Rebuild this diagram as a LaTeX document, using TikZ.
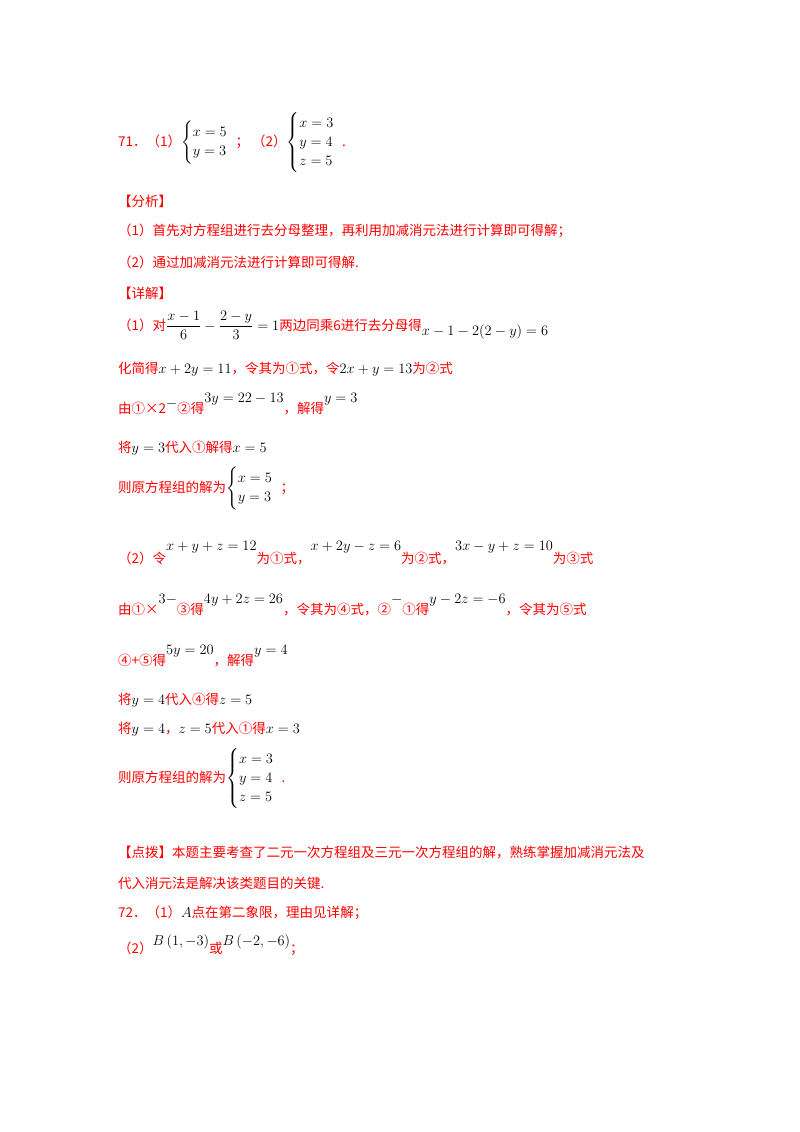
\documentclass[tikz,border=0pt]{standalone}
\usepackage{fontspec}
\usepackage{amsmath}
\newfontfamily\cjk{Noto Sans CJK SC}
\newcommand\mm[1]{\textcolor{black}{$#1$}}
\newcommand\up[2]{\raisebox{#1}{\mm{#2}}}
\begin{document}
\begin{tikzpicture}[x=1pt,y=-1pt,
 ln/.style={anchor=base west,text=red,inner sep=0pt,font=\cjk\fontsize{13.5}{16}\selectfont}]
\useasboundingbox (0,0) rectangle (800,1132);
\node[ln] (l1) at (118,146) {71．（1）\mm{\begin{cases}x=5\\y=3\end{cases}}\hspace{-6pt}；\ （2）\mm{\begin{cases}x=3\\y=4\\z=5\end{cases}}\hspace{-6pt}.};
\node[ln] (l2) at (118,206) {【分析】};
\node[ln] (l3) at (118,235) {（1）首先对方程组进行去分母整理，再利用加减消元法进行计算即可得解；};
\node[ln] (l4) at (118,267) {（2）通过加减消元法进行计算即可得解.};
\node[ln] (l5) at (118,298) {【详解】};
\node[ln] (l6) at (118,330) {（1）对\mm{\dfrac{x-1}{6}-\dfrac{2-y}{3}=1}两边同乘6进行去分母得\up{-5pt}{x-1-2(2-y)=6}};
\node[ln] (l7) at (118,373) {化简得\mm{x+2y=11}，令其为①式，令\mm{2x+y=13}为②式};
\node[ln] (l8) at (118,413) {由①×2\up{6pt}{-}②得\up{11pt}{3y=22-13}，解得\up{11pt}{y=3}};
\node[ln] (l9) at (118,452) {将\mm{y=3}代入①解得\mm{x=5}};
\node[ln] (l10) at (118,492) {则原方程组的解为\mm{\begin{cases}x=5\\y=3\end{cases}}\hspace{-6pt}；};
\node[ln] (l11) at (118,563) {（2）令\up{13pt}{x+y+z=12}为①式，\up{13pt}{x+2y-z=6}为②式，\up{13pt}{3x-y+z=10}为③式};
\node[ln] (l12) at (118,614) {由①×\up{11pt}{3-}③得\up{11pt}{4y+2z=26}，令其为④式，②\up{11pt}{-}①得\up{11pt}{y-2z=-6}，令其为⑤式};
\node[ln] (l13) at (118,665) {④+⑤得\up{11pt}{5y=20}，解得\up{11pt}{y=4}};
\node[ln] (l14) at (118,704) {将\mm{y=4}代入④得\mm{z=5}};
\node[ln] (l15) at (118,733) {将\mm{y=4}，\mm{z=5}代入①得\mm{x=3}};
\node[ln] (l16) at (118,782) {则原方程组的解为\mm{\begin{cases}x=3\\y=4\\z=5\end{cases}}\hspace{-6pt}.};
\node[ln] (l17) at (118,857) {【点拨】本题主要考查了二元一次方程组及三元一次方程组的解，熟练掌握加减消元法及};
\node[ln] (l18) at (118,888) {代入消元法是解决该类题目的关键.};
\node[ln] (l19) at (118,917) {72．（1）\mm{A}点在第二象限，理由见详解；};
\node[ln] (l20) at (118,953) {（2）\up{8pt}{B\left(1,-3\right)}或\up{8pt}{B\left(-2,-6\right)}；};
\end{tikzpicture}
\end{document}
